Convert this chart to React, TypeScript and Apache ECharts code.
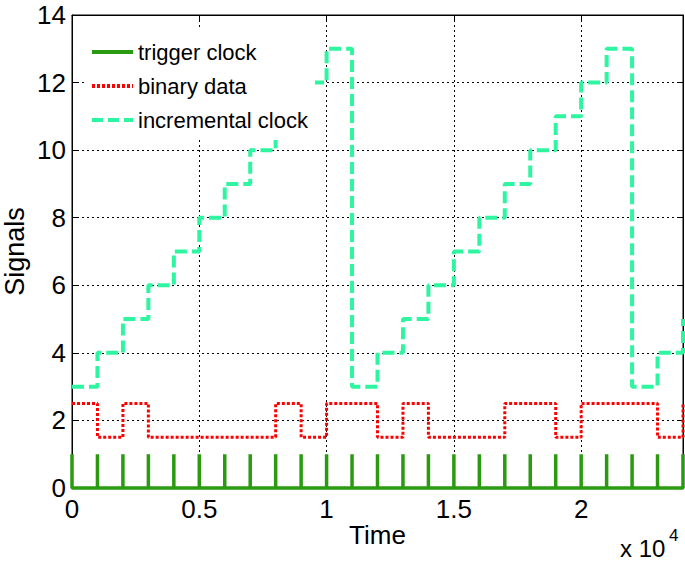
import React, { useEffect, useRef } from "react";
import * as echarts from "echarts";

// ---- data ----
const pulseTimes = [
  0, 1000, 2000, 3000, 4000, 5000, 6000, 7000, 8000, 9000, 10000, 11000, 12000,
  13000, 14000, 15000, 16000, 17000, 18000, 19000, 20000, 21000, 22000, 23000, 24000,
];
const pulseLow = 0;
const pulseHigh = 1;

const binaryTimes = [0, 1000, 2000, 3000, 8000, 9000, 10000, 12000, 13000, 14000, 17000, 19000, 20000, 23000, 24000];
const binaryValues = [2.5, 1.5, 2.5, 1.5, 2.5, 1.5, 2.5, 1.5, 2.5, 1.5, 2.5, 1.5, 2.5, 1.5, 2.5];

const counterTimes = [
  0, 1000, 2000, 3000, 4000, 5000, 6000, 7000, 8000, 9000, 10000, 11000, 12000,
  13000, 14000, 15000, 16000, 17000, 18000, 19000, 20000, 21000, 22000, 23000, 24000,
];
const counterValues = [3, 4, 5, 6, 7, 8, 9, 10, 11, 12, 13, 3, 4, 5, 6, 7, 8, 9, 10, 11, 12, 13, 3, 4, 5];

const xTickValues = [0, 5000, 10000, 15000, 20000];
const xTickLabels = ["0", "0.5", "1", "1.5", "2"];
const seriesNames = ["trigger clock", "binary data", "incremental clock"];

const FONT = "'Liberation Sans', Arial, Helvetica, sans-serif";
const GREEN = "#2a9a10";
const RED = "#ff0000";
const MINT = "#2ef5a0";

export default function App() {
  const ref = useRef<HTMLDivElement>(null);
  useEffect(() => {
    if (!ref.current) return;
    const chart = echarts.init(ref.current, undefined, { renderer: "svg" });

    const triggerData: number[][] = [];
    pulseTimes.forEach((t) => {
      triggerData.push([t, pulseLow], [t, pulseHigh], [t, pulseLow]);
    });
    const binaryData = binaryTimes.map((t, i) => [t, binaryValues[i]]);
    const counterData = counterTimes.map((t, i) => [t, counterValues[i]]);

    const xFormatter = (v: number) => {
      const idx = xTickValues.indexOf(v);
      return idx >= 0 ? xTickLabels[idx] : "";
    };

    const gridLine = { show: true, lineStyle: { color: "#000", type: [2, 3], width: 1 } };
    const axisLine = { show: true, onZero: false, lineStyle: { color: "#000", width: 1 } };
    const tick = { show: true, inside: true, length: 5, lineStyle: { color: "#000", width: 1 } };

    chart.setOption({
      animation: false,
      backgroundColor: "#fff",
      grid: {
        left: 72,
        right: 2,
        top: 15,
        bottom: 77,
        containLabel: false,
        outerBoundsMode: "none",
        show: true,
        borderColor: "#000",
        borderWidth: 1,
      },
      legend: {
        data: [
          { name: seriesNames[0], lineStyle: { width: 4, color: GREEN } },
          { name: seriesNames[1], lineStyle: { width: 4, color: RED, type: [3, 2] } },
          { name: seriesNames[2], lineStyle: { width: 4, color: MINT, type: [11, 5] } },
        ],
        orient: "vertical",
        left: 85,
        top: 30,
        itemWidth: 41,
        itemHeight: 14,
        itemGap: 10,
        padding: [10, 7, 8, 5],
        backgroundColor: "#fff",
        selectedMode: false,
        itemStyle: { opacity: 0 },
        textStyle: { fontSize: 22, color: "#000", fontFamily: FONT, lineHeight: 24 },
      },
      xAxis: [
        {
          type: "value",
          min: 0,
          max: 24000,
          interval: 5000,
          position: "bottom",
          axisLine,
          axisTick: tick,
          axisLabel: { formatter: xFormatter, color: "#000", fontSize: 26, fontFamily: FONT, margin: 8 },
          splitLine: gridLine,
          name: "Time",
          nameLocation: "middle",
          nameGap: 34,
          nameMoveOverlap: false,
          nameTextStyle: { fontSize: 26, color: "#000", fontFamily: FONT },
        },
        {
          type: "value",
          min: 0,
          max: 24000,
          interval: 5000,
          position: "top",
          axisLine,
          axisTick: tick,
          axisLabel: { show: false },
          splitLine: { show: false },
        },
      ],
      yAxis: [
        {
          type: "value",
          min: 0,
          max: 14,
          interval: 2,
          position: "left",
          axisLine,
          axisTick: tick,
          axisLabel: { color: "#000", fontSize: 26, fontFamily: FONT, margin: 6 },
          splitLine: gridLine,
          name: "Signals",
          nameLocation: "middle",
          nameGap: 44,
          nameMoveOverlap: false,
          nameTextStyle: { fontSize: 27, color: "#000", fontFamily: FONT },
        },
        {
          type: "value",
          min: 0,
          max: 14,
          interval: 2,
          position: "right",
          axisLine,
          axisTick: tick,
          axisLabel: { show: false },
          splitLine: { show: false },
        },
      ],
      series: [
        {
          name: seriesNames[0],
          type: "line",
          data: triggerData,
          symbol: "none",
          clip: false,
          z: 4,
          lineStyle: { color: GREEN, width: 3.5 },
          itemStyle: { color: GREEN },
        },
        {
          name: seriesNames[1],
          type: "line",
          step: "end",
          data: binaryData,
          symbol: "none",
          z: 3,
          lineStyle: { color: RED, width: 3, type: [3, 2] },
          itemStyle: { color: RED },
        },
        {
          name: seriesNames[2],
          type: "line",
          step: "end",
          data: counterData,
          symbol: "none",
          z: 3,
          lineStyle: { color: MINT, width: 4, type: [12, 5] },
          itemStyle: { color: MINT },
        },
      ],
      graphic: [
        {
          type: "text",
          left: 620,
          top: 536,
          style: { text: "x 10", fontSize: 24, fill: "#000", fontFamily: FONT },
        },
        {
          type: "text",
          left: 669,
          top: 527,
          style: { text: "4", fontSize: 17, fill: "#000", fontFamily: FONT },
        },
      ],
    });
    return () => chart.dispose();
  }, []);

  return (
    <div
      ref={ref}
      style={{ position: "fixed", left: 0, top: 0, width: 685, height: 565, background: "#fff" }}
    />
  );
}
